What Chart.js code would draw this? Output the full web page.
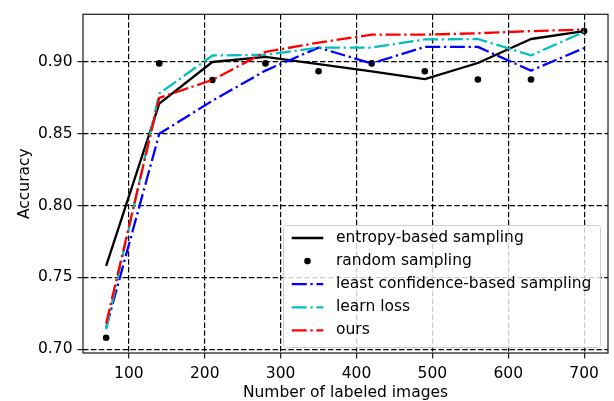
<!DOCTYPE html>
<html>
<head>
<meta charset="utf-8">
<script src="https://cdn.jsdelivr.net/npm/chart.js@4"></script>
<style>
  html, body { margin: 0; padding: 0; background: #ffffff; }
  #c { display: block; }
</style>
</head>
<body>
<canvas id="c" width="614" height="401"></canvas>
<script>
// ---- data ----
const samples   = [70, 140, 210, 280, 350, 420, 490, 560, 630, 700];
const entropy   = [0.758, 0.871, 0.900, 0.9035, 0.8985, 0.8935, 0.888, 0.8993, 0.916, 0.9215];
const randomS   = [0.708, 0.899, 0.8875, 0.899, 0.8935, 0.899, 0.8935, 0.8878, 0.8878, 0.9215];
const leastConf = [0.715, 0.850, 0.873, 0.894, 0.910, 0.899, 0.9105, 0.9105, 0.894, 0.9097];
const learnLoss = [0.714, 0.878, 0.9045, 0.905, 0.910, 0.910, 0.9157, 0.916, 0.9046, 0.921];
const ours      = [0.718, 0.875, 0.8875, 0.907, 0.9135, 0.919, 0.919, 0.920, 0.9215, 0.9226];
const xTicks = [100, 200, 300, 400, 500, 600, 700];
const yTicks = [0.70, 0.75, 0.80, 0.85, 0.90];
const seriesNames = ['entropy-based sampling', 'random sampling', 'least confidence-based sampling', 'learn loss', 'ours'];

const FONT = 'DejaVu Sans';
const FS = 15.5;
const DASHDOT = [15, 3.7, 2.3, 3.7];
const LW = 2.3;

const pts = arr => samples.map((x, i) => ({x: x, y: arr[i]}));

const datasets = [
  {label: seriesNames[0], data: pts(entropy), borderColor: '#000000', borderWidth: LW, pointRadius: 0, order: 4, _kind: 'solid'},
  {label: seriesNames[1], data: pts(randomS), showLine: false, pointRadius: 3.3, pointBackgroundColor: '#000000', pointBorderWidth: 0, borderColor: '#000000', order: 3, _kind: 'dot'},
  {label: seriesNames[2], data: pts(leastConf), borderColor: '#0000ff', borderWidth: LW, borderDash: DASHDOT, pointRadius: 0, order: 2, _kind: 'dashdot'},
  {label: seriesNames[3], data: pts(learnLoss), borderColor: '#00bfbf', borderWidth: LW, borderDash: DASHDOT, pointRadius: 0, order: 1, _kind: 'dashdot'},
  {label: seriesNames[4], data: pts(ours), borderColor: '#ff0000', borderWidth: LW, borderDash: DASHDOT, pointRadius: 0, order: 0, _kind: 'dashdot'}
];
datasets.forEach(d => { d.tension = 0; d.fill = false; d.borderJoinStyle = 'round'; d.borderCapStyle = 'butt'; });

const framePlugin = {
  id: 'frame',
  afterDatasetsDraw(chart) {
    const {ctx, chartArea: a} = chart;
    ctx.save();
    ctx.strokeStyle = '#222222';
    ctx.lineWidth = 1.25;
    ctx.setLineDash([]);
    ctx.strokeRect(a.left, a.top, a.right - a.left, a.bottom - a.top);
    ctx.restore();
  }
};

const legendPlugin = {
  id: 'mplLegend',
  afterDraw(chart) {
    const ctx = chart.ctx;
    const bx = 283.5, by = 225.5, bw = 317, bh = 122, r = 3;
    ctx.save();
    ctx.beginPath();
    ctx.moveTo(bx + r, by);
    ctx.lineTo(bx + bw - r, by);
    ctx.arcTo(bx + bw, by, bx + bw, by + r, r);
    ctx.lineTo(bx + bw, by + bh - r);
    ctx.arcTo(bx + bw, by + bh, bx + bw - r, by + bh, r);
    ctx.lineTo(bx + r, by + bh);
    ctx.arcTo(bx, by + bh, bx, by + bh - r, r);
    ctx.lineTo(bx, by + r);
    ctx.arcTo(bx, by, bx + r, by, r);
    ctx.closePath();
    ctx.fillStyle = 'rgba(255,255,255,0.8)';
    ctx.fill();
    ctx.strokeStyle = '#cccccc';
    ctx.lineWidth = 1;
    ctx.stroke();

    const x0 = 291.7, x1 = 323.3, tx = 336;
    const y0 = 238, step = 23.1;
    chart.data.datasets.forEach((d, i) => {
      const y = y0 + i * step;
      if (d._kind === 'dot') {
        ctx.beginPath();
        ctx.fillStyle = '#000000';
        ctx.arc((x0 + x1) / 2, y, 3.3, 0, Math.PI * 2);
        ctx.fill();
      } else {
        ctx.beginPath();
        ctx.strokeStyle = d.borderColor;
        ctx.lineWidth = LW;
        ctx.setLineDash(d._kind === 'dashdot' ? DASHDOT : []);
        ctx.moveTo(x0, y);
        ctx.lineTo(x1, y);
        ctx.stroke();
        ctx.setLineDash([]);
      }
      ctx.fillStyle = '#000000';
      ctx.font = FS + 'px "' + FONT + '"';
      ctx.textAlign = 'left';
      ctx.textBaseline = 'middle';
      ctx.fillText(d.label, tx, y);
    });
    ctx.restore();
  }
};

const gridCommon = {
  color: '#000000',
  lineWidth: 1.2,
  drawTicks: true,
  tickLength: 5.5,
  tickColor: '#222222',
  tickWidth: 1.25
};

new Chart(document.getElementById('c'), {
  type: 'line',
  data: {datasets: datasets},
  plugins: [framePlugin, legendPlugin],
  options: {
    responsive: false,
    animation: false,
    devicePixelRatio: 1,
    layout: {padding: {left: 0, right: 6, top: 12, bottom: 0}},
    plugins: {legend: {display: false}, tooltip: {enabled: false}},
    scales: {
      x: {
        type: 'linear',
        min: 39.5,
        max: 731.5,
        afterBuildTicks: s => { s.ticks = xTicks.map(v => ({value: v})); },
        afterFit: s => { s.height = 48; },
        grid: gridCommon,
        border: {display: false, dash: [5.5, 2.4]},
        ticks: {
          padding: 6,
          color: '#000000',
          font: {family: FONT, size: FS},
          maxRotation: 0,
          callback: v => String(v)
        },
        title: {display: true, text: 'Number of labeled images', color: '#000000', font: {family: FONT, size: FS, lineHeight: 1.1}, padding: {top: 0, bottom: 0}}
      },
      y: {
        type: 'linear',
        min: 0.6974,
        max: 0.9332,
        afterBuildTicks: s => { s.ticks = yTicks.map(v => ({value: v})); },
        afterFit: s => { s.width = 83; },
        grid: gridCommon,
        border: {display: false, dash: [5.5, 2.4]},
        ticks: {
          padding: 5,
          color: '#000000',
          font: {family: FONT, size: FS},
          callback: v => Number(v).toFixed(2)
        },
        title: {display: true, text: 'Accuracy', color: '#000000', font: {family: FONT, size: FS}, padding: {top: 16, bottom: 0}}
      }
    }
  }
});
</script>
</body>
</html>
